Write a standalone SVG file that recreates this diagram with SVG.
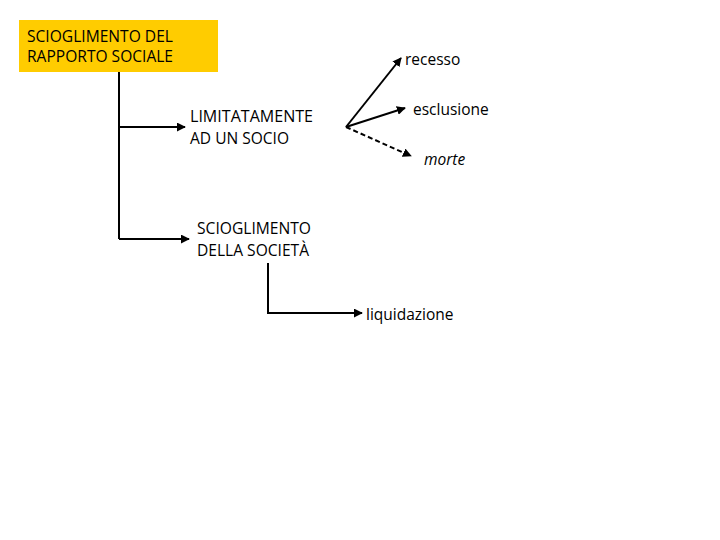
<svg xmlns="http://www.w3.org/2000/svg" width="720" height="540" viewBox="0 0 720 540">
<defs>
<style>
text{font-family:"Open Sans","Liberation Sans",sans-serif;font-size:15.5px;fill:#000}
.c{stroke:#000;stroke-width:2;fill:none}
.d{stroke-dasharray:5,3}
</style>
<marker id="ah" viewBox="0 0 10 10" refX="9" refY="5" markerWidth="4.5" markerHeight="4.5" orient="auto" markerUnits="strokeWidth">
<path d="M0,0 L10,5 L0,10 z" fill="#000"/>
</marker>
</defs>
<rect width="720" height="540" fill="#fff"/>
<g id="connectors">
<path class="c" d="M119,72 V239"/>
<path class="c" d="M119,127 H185" marker-end="url(#ah)"/>
<path class="c" d="M119,239 H189" marker-end="url(#ah)"/>
<path class="c" d="M268,263 V313 H362" marker-end="url(#ah)"/>
<path class="c" d="M346,127 L401,58" marker-end="url(#ah)"/>
<path class="c" d="M346,127 L405,108" marker-end="url(#ah)"/>
<path class="c d" d="M346,127 L411,156" marker-end="url(#ah)"/>
</g>
<g id="root">
<rect x="19" y="20" width="199" height="52" fill="#FFCC00"/>
<text x="27" y="42" textLength="146" lengthAdjust="spacingAndGlyphs">SCIOGLIMENTO DEL</text>
<text x="27" y="62" textLength="146" lengthAdjust="spacingAndGlyphs">RAPPORTO SOCIALE</text>
</g>
<g id="limitatamente">
<text x="190" y="122" textLength="123" lengthAdjust="spacingAndGlyphs">LIMITATAMENTE</text>
<text x="190" y="144" textLength="99" lengthAdjust="spacingAndGlyphs">AD UN SOCIO</text>
</g>
<g id="scioglimento-societa">
<text x="197" y="234" textLength="114" lengthAdjust="spacingAndGlyphs">SCIOGLIMENTO</text>
<text x="197" y="256" textLength="112" lengthAdjust="spacingAndGlyphs">DELLA SOCIETÀ</text>
</g>
<g id="recesso"><text x="405" y="65">recesso</text></g>
<g id="esclusione"><text x="413" y="115">esclusione</text></g>
<g id="morte"><text x="424" y="165" font-style="italic">morte</text></g>
<g id="liquidazione"><text x="366" y="320">liquidazione</text></g>
</svg>
